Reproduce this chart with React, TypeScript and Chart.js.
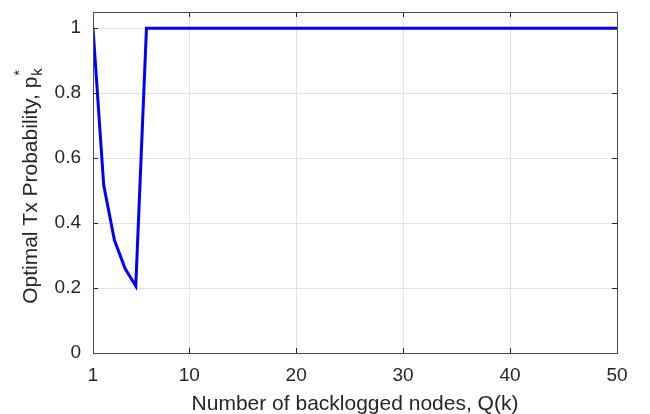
import React, { useEffect, useRef } from "react";
import { Chart, registerables } from "chart.js";

Chart.register(...registerables);

const xValues: number[] = [
  1, 2, 3, 4, 5, 6, 7, 8, 9, 10, 11, 12, 13, 14, 15, 16, 17, 18, 19, 20, 21, 22, 23, 24, 25,
  26, 27, 28, 29, 30, 31, 32, 33, 34, 35, 36, 37, 38, 39, 40, 41, 42, 43, 44, 45, 46, 47, 48, 49, 50,
];
const pValues: number[] = [
  1, 0.517, 0.348, 0.26, 0.206, 1, 1, 1, 1, 1, 1, 1, 1, 1, 1, 1, 1, 1, 1, 1, 1, 1, 1, 1, 1,
  1, 1, 1, 1, 1, 1, 1, 1, 1, 1, 1, 1, 1, 1, 1, 1, 1, 1, 1, 1, 1, 1, 1, 1, 1,
];
const xTicks: number[] = [1, 10, 20, 30, 40, 50];
const yTicks: number[] = [0, 0.2, 0.4, 0.6, 0.8, 1];
const xTitle = "Number of backlogged nodes, Q(k)";
const yTitleMain = "Optimal Tx Probability, p";
const yTitleSub = "k";
const yTitleSup = "*";

const FONT = '"Liberation Sans", Arial, Helvetica, sans-serif';
const TEXT = "#262626";

const decor = {
  id: "matlabDecor",
  afterDraw(chart: any) {
    const { ctx, chartArea: a, scales } = chart;
    ctx.save();
    // inward ticks
    ctx.strokeStyle = TEXT;
    ctx.lineWidth = 1;
    ctx.beginPath();
    for (const v of xTicks) {
      const px = Math.round(scales.x.getPixelForValue(v)) + 0.5;
      ctx.moveTo(px, a.bottom);
      ctx.lineTo(px, a.bottom - 5);
      ctx.moveTo(px, a.top);
      ctx.lineTo(px, a.top + 5);
    }
    for (const v of yTicks) {
      const py = Math.round(scales.y.getPixelForValue(v)) + 0.5;
      ctx.moveTo(a.left, py);
      ctx.lineTo(a.left + 5, py);
      ctx.moveTo(a.right, py);
      ctx.lineTo(a.right - 5, py);
    }
    ctx.stroke();
    // box
    ctx.strokeStyle = "#4a4a4a";
    ctx.strokeRect(a.left + 0.5, a.top + 0.5, a.right - a.left, a.bottom - a.top);

    // x title
    ctx.fillStyle = TEXT;
    ctx.font = `21px ${FONT}`;
    ctx.textAlign = "left";
    ctx.textBaseline = "alphabetic";
    const xw = ctx.measureText(xTitle).width;
    ctx.fillText(xTitle, (a.left + a.right) / 2 - xw / 2, 410);

    // y title with subscript / superscript
    const cy = (a.top + a.bottom) / 2 + 4;
    ctx.translate(37, cy);
    ctx.rotate(-Math.PI / 2);
    ctx.font = `21px ${FONT}`;
    const mw = ctx.measureText(yTitleMain).width;
    ctx.font = `15px ${FONT}`;
    const sw = Math.max(ctx.measureText(yTitleSub).width, ctx.measureText(yTitleSup).width);
    const total = mw + sw;
    const x0 = -total / 2;
    ctx.font = `21px ${FONT}`;
    ctx.fillText(yTitleMain, x0, 0);
    ctx.font = `15px ${FONT}`;
    ctx.fillText(yTitleSub, x0 + mw + 1, 5);
    ctx.fillText(yTitleSup, x0 + mw + 1, -13);
    ctx.restore();
  },
};

export default function App() {
  const ref = useRef<HTMLCanvasElement | null>(null);
  useEffect(() => {
    if (!ref.current) return;
    const chart = new Chart(ref.current, {
      type: "line",
      data: {
        datasets: [
          {
            data: xValues.map((x, i) => ({ x, y: pValues[i] })),
            borderColor: "#0000ff",
            borderWidth: 3,
            pointRadius: 0,
            tension: 0,
            fill: false,
          },
        ],
      },
      options: {
        responsive: false,
        animation: false,
        devicePixelRatio: 1,
        layout: { padding: { top: 12, right: 33, left: 0, bottom: 0 } },
        plugins: { legend: { display: false }, tooltip: { enabled: false } },
        scales: {
          x: {
            type: "linear",
            min: 1,
            max: 50,
            afterBuildTicks: (s: any) => {
              s.ticks = xTicks.map((v) => ({ value: v }));
            },
            afterFit: (s: any) => {
              s.height = 61;
              s.paddingLeft = 0;
              s.paddingRight = 0;
            },
            grid: { color: "#e3e3e3", drawTicks: false },
            border: { display: false },
            ticks: {
              autoSkip: false,
              maxRotation: 0,
              padding: 11,
              color: TEXT,
              font: { family: FONT, size: 19 },
              callback: (v: any) => String(v),
            },
          },
          y: {
            type: "linear",
            min: 0,
            max: 1.05,
            afterBuildTicks: (s: any) => {
              s.ticks = yTicks.map((v) => ({ value: v }));
            },
            afterFit: (s: any) => {
              s.width = 93;
              s.paddingTop = 0;
              s.paddingBottom = 0;
            },
            grid: { color: "#e3e3e3", drawTicks: false },
            border: { display: false },
            ticks: {
              padding: 12,
              color: TEXT,
              font: { family: FONT, size: 19 },
              callback: (v: any) => String(Number(Number(v).toFixed(1))),
            },
          },
        },
      },
      plugins: [decor],
    });
    return () => chart.destroy();
  }, []);
  return (
    <div style={{ position: "absolute", left: 0, top: 0, width: 650, height: 414, background: "#fff" }}>
      <canvas ref={ref} width={650} height={414} />
    </div>
  );
}
